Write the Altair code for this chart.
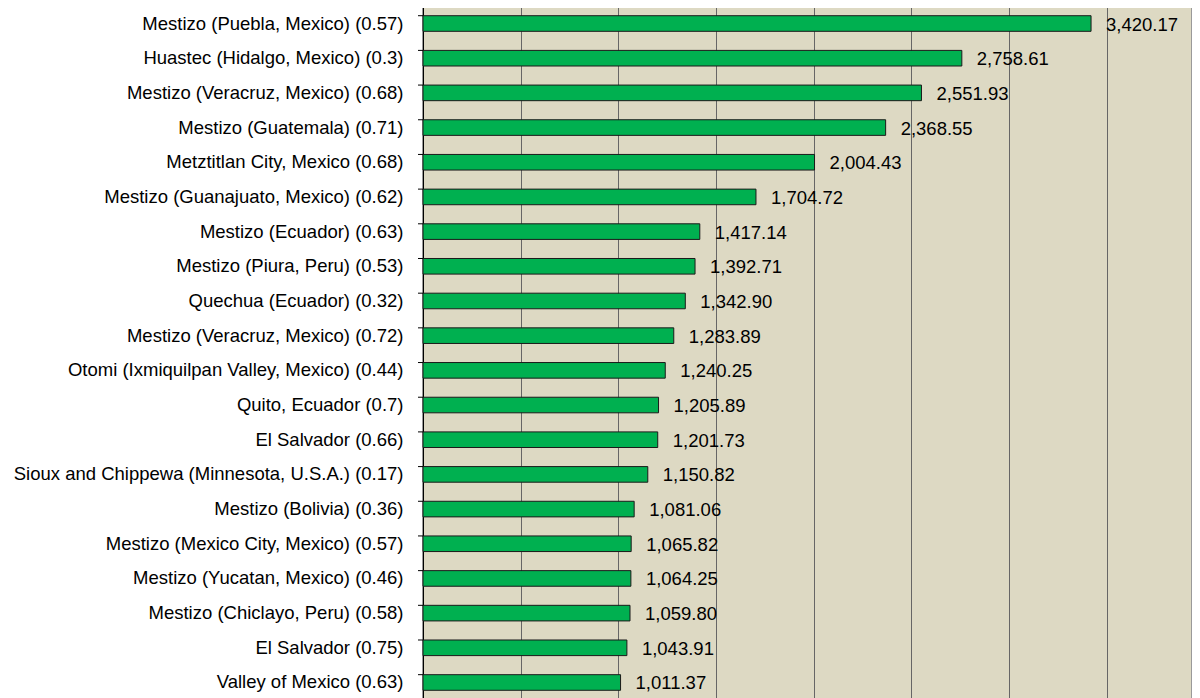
import altair as alt
import pandas as pd

categories = [
    "Mestizo (Puebla, Mexico) (0.57)",
    "Huastec (Hidalgo, Mexico) (0.3)",
    "Mestizo (Veracruz, Mexico) (0.68)",
    "Mestizo (Guatemala) (0.71)",
    "Metztitlan City, Mexico (0.68)",
    "Mestizo (Guanajuato, Mexico) (0.62)",
    "Mestizo (Ecuador) (0.63)",
    "Mestizo (Piura, Peru) (0.53)",
    "Quechua (Ecuador) (0.32)",
    "Mestizo (Veracruz, Mexico) (0.72)",
    "Otomi (Ixmiquilpan Valley, Mexico) (0.44)",
    "Quito, Ecuador (0.7)",
    "El Salvador (0.66)",
    "Sioux and Chippewa (Minnesota, U.S.A.) (0.17)",
    "Mestizo (Bolivia) (0.36)",
    "Mestizo (Mexico City, Mexico) (0.57)",
    "Mestizo (Yucatan, Mexico) (0.46)",
    "Mestizo (Chiclayo, Peru) (0.58)",
    "El Salvador (0.75)",
    "Valley of Mexico (0.63)",
]
values = [3420.17, 2758.61, 2551.93, 2368.55, 2004.43, 1704.72, 1417.14, 1392.71,
          1342.90, 1283.89, 1240.25, 1205.89, 1201.73, 1150.82, 1081.06, 1065.82,
          1064.25, 1059.80, 1043.91, 1011.37]

df = pd.DataFrame({"cat": categories, "val": values})

FONT = "Liberation Sans"
ysc = alt.Scale(paddingInner=0.55, paddingOuter=0.28)
xsc = alt.Scale(domain=[0, 3937], nice=False, zero=True)

base = alt.Chart(df)

bars = base.mark_bar(fill="#00B050", stroke="#1a1a1a", strokeWidth=1).encode(
    x=alt.X("val:Q", scale=xsc,
            axis=alt.Axis(values=[500, 1000, 1500, 2000, 2500, 3000, 3500],
                          labels=False, ticks=False, domain=False, title=None,
                          grid=True, gridColor="#666666", gridWidth=1, gridOpacity=1)),
    y=alt.Y("cat:N", sort=None, scale=ysc,
            axis=alt.Axis(title=None, ticks=False, labelFont=FONT, labelFontSize=18.5,
                          labelColor="#000000", labelPadding=20, labelLimit=430,
                          domain=True, domainColor="#000000", grid=False)),
)

labels = base.mark_text(align="left", baseline="middle", dx=15, dy=1, font=FONT,
                        fontSize=18.5, color="#000000").encode(
    x=alt.X("val:Q", scale=xsc),
    y=alt.Y("cat:N", sort=None, scale=ysc),
    text=alt.Text("val:Q", format=",.2f"),
)

ticks = base.mark_rule(color="#000000", strokeWidth=1).encode(
    x=alt.value(-5),
    x2=alt.value(0),
    y=alt.Y("cat:N", sort=None, scale=ysc, bandPosition=0),
)

chart = alt.layer(bars, labels, ticks).properties(
    width=769, height=694,
    autosize=alt.AutoSizeParams(type="none"),
    padding={"left": 415, "top": -2, "right": 0, "bottom": 0},
).configure_view(fill="#DDD9C3", stroke="#9a9a9a", strokeWidth=2)

chart.save("out.html", embed_options={"renderer": "svg", "actions": False})
